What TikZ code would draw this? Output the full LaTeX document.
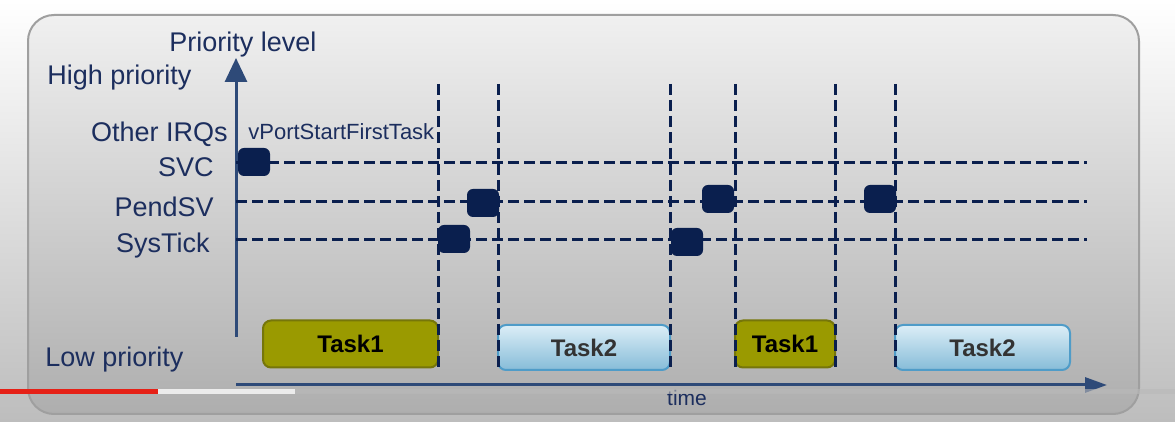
\documentclass[tikz,border=0pt]{standalone}
\usepackage{fontspec}
\setmainfont{Liberation Sans}
\usetikzlibrary{arrows.meta, positioning}
\usepackage{xcolor}

\definecolor{irqnavy}{HTML}{0A1F4E}
\definecolor{axisblue}{HTML}{2E4A78}
\definecolor{textblue}{HTML}{1C2E5E}
\definecolor{taskolive}{HTML}{9A9A00}
\definecolor{oliveedge}{HTML}{76760A}
\definecolor{skytop}{HTML}{DCEEF7}
\definecolor{skybot}{HTML}{86BCD8}
\definecolor{skyedge}{HTML}{4F9CC8}
\definecolor{paneltop}{HTML}{F0F0F0}
\definecolor{panelbot}{HTML}{AEAEAE}
\definecolor{bgbot}{HTML}{BDBDBD}
\definecolor{barred}{HTML}{E62117}

\tikzset{
  lbl/.style={text=textblue, inner sep=0pt, font=\fontsize{13.5}{15}\selectfont},
  axisline/.style={draw=axisblue, line width=1.5pt},
  gridline/.style={draw=irqnavy, line width=1.5pt, dash pattern=on 5.5pt off 2.5pt},
  irq/.style={rectangle, rounded corners=3pt, fill=irqnavy, minimum width=16pt, minimum height=14pt, inner sep=0pt},
  taskone/.style={rectangle, rounded corners=4pt, fill=taskolive, draw=oliveedge, line width=1pt,
    minimum height=23.5pt, inner sep=0pt, font=\bfseries\fontsize{12}{14}\selectfont, text=black},
  tasktwo/.style={rectangle, rounded corners=4pt, top color=skytop, bottom color=skybot, draw=skyedge, line width=1pt,
    minimum height=22.5pt, inner sep=0pt, font=\bfseries\fontsize{12}{14}\selectfont, text=black!80},
}

\begin{document}
\begin{tikzpicture}[x=0.5pt, y=-0.5pt]
  \useasboundingbox (0,0) rectangle (1175,422);
  % background and panel
  \fill[top color=white, bottom color=bgbot] (0,0) rectangle (1175,422);
  \draw[rounded corners=13pt, draw=gray!75, line width=1pt, top color=paneltop, bottom color=panelbot] (28,15) rectangle (1139,414);

  % axes
  \coordinate (yorig) at (236,337);
  \coordinate (ytop) at (236,58);
  \coordinate (xorig) at (236,385);
  \coordinate (xend) at (1107,385);
  \draw[axisline, -{Triangle[width=11pt, length=12pt]}] (yorig) -- (ytop);
  \draw[axisline, -{Triangle[width=7.5pt, length=11pt]}] (xorig) -- (xend);

  % priority levels
  \foreach \lvl/\y in {svc/163, pendsv/202, systick/240} {
    \coordinate (\lvl-l) at (236,\y);
    \coordinate (\lvl-r) at (1087,\y);
    \draw[gridline] (\lvl-l) -- (\lvl-r);
  }

  % tasks
  \node[taskone, minimum width=87.5pt] (task1a) at (350.5,344) {Task1};
  \node[tasktwo, minimum width=86pt] (task2a) at (584,347.5) {Task2};
  \node[taskone, minimum width=50pt] (task1b) at (785,344) {Task1};
  \node[tasktwo, minimum width=87.5pt] (task2b) at (982.5,347.5) {Task2};

  % context switch markers
  \foreach \x [count=\i] in {438,498,670,735,835,895} {
    \coordinate (sw\i-top) at (\x,84);
    \coordinate (sw\i-bot) at (\x,367);
    \draw[gridline] (sw\i-top) -- (sw\i-bot);
  }

  % exceptions
  \node[irq] (svc1) at (254,162) {};
  \node[irq] (systick1) at (454,239) {};
  \node[irq] (pendsv1) at (483,203) {};
  \node[irq] (systick2) at (687,242) {};
  \node[irq] (pendsv2) at (718,199) {};
  \node[irq] (pendsv3) at (880,199) {};

  % labels
  \node[lbl, anchor=base] (ylabel) at (243,52) {Priority level};
  \node[lbl, anchor=base west] (high) at (47,85) {High priority};
  \node[lbl, anchor=base east] (other) at (228,142) {Other IRQs};
  \node[lbl, anchor=base east] (svclbl) at (214,177) {SVC};
  \node[lbl, anchor=base east] (pendlbl) at (214,217) {PendSV};
  \node[lbl, anchor=base east] (ticklbl) at (210,253) {SysTick};
  \node[lbl, anchor=base west] (low) at (45,367) {Low priority};
  \node[lbl, anchor=base west, font=\fontsize{11}{13}\selectfont] (vport) at (248,140) {vPortStartFirstTask};
  \node[lbl, anchor=base, font=\fontsize{10.5}{12}\selectfont] (xlabel) at (687,406) {time};

  % video progress bar
  \fill[gray!55, opacity=0.6] (295,389) rectangle (1175,394);
  \fill[gray!15] (158,389) rectangle (295,394);
  \fill[barred] (0,389) rectangle (158,394);
\end{tikzpicture}
\end{document}
